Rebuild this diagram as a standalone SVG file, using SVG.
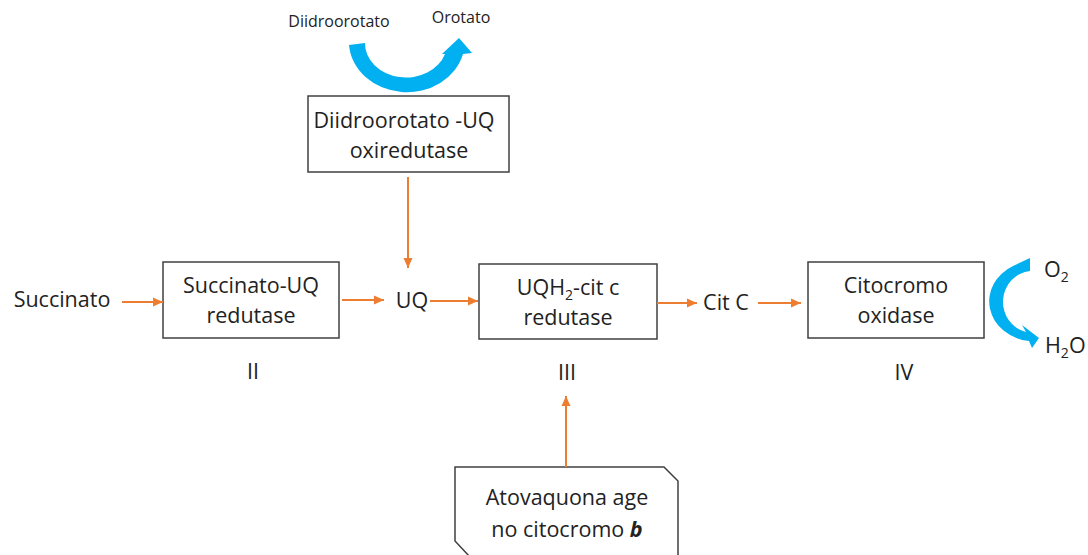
<svg xmlns="http://www.w3.org/2000/svg" width="1088" height="555" viewBox="0 0 1088 555">
  <defs>
    <marker id="arrow" markerWidth="11" markerHeight="10" refX="10" refY="5" orient="auto" markerUnits="userSpaceOnUse">
      <path d="M0,0.5 L10,5 L0,9.5 Z" fill="#ED7D31"/>
    </marker>
    <style>
      .box { fill: #ffffff; stroke: #404040; stroke-width: 1.5; }
      .lbl { font-family: "Open Sans", "Liberation Sans", sans-serif; font-size: 21.5px; fill: #222222; text-anchor: middle; }
      .sm { font-family: "Open Sans", "Liberation Sans", sans-serif; font-size: 16px; fill: #222222; text-anchor: middle; }
      .sub { font-size: 14px; }
      .conn { stroke: #ED7D31; stroke-width: 2; fill: none; marker-end: url(#arrow); }
      .flow { fill: #00B0F0; }
    </style>
  </defs>
  <rect width="1088" height="555" fill="#ffffff"/>

  <!-- curved flow arrows -->
  <g id="dho-flow">
    <path class="flow" d="M349 45 A58 51 0 0 0 463 54 L472 53 L459 38 L442 54 L445 54 A41 34 0 0 1 365 43 Z"/>
    <text class="sm" x="339" y="27">Diidroorotato</text>
    <text class="sm" x="461" y="23">Orotato</text>
  </g>
  <g id="o2-flow">
    <path class="flow" d="M1013 266 A45 40 0 0 0 1029 341 L1032 348 L1039 338 L1022 325 L1026 332 A30 31 0 0 1 1030 271 L1030 258 Z"/>
    <text class="lbl" x="1044" y="277" style="text-anchor:start">O<tspan class="sub" dy="5">2</tspan></text>
    <text class="lbl" x="1045" y="353" style="text-anchor:start">H<tspan class="sub" dy="5">2</tspan><tspan dy="-5">O</tspan></text>
  </g>

  <!-- enzymes -->
  <g id="dho-uq">
    <rect class="box" x="308" y="96" width="201" height="76"/>
    <text class="lbl" x="404" y="128">Diidroorotato -UQ</text>
    <text class="lbl" x="409" y="158">oxiredutase</text>
  </g>
  <g id="complex-ii">
    <rect class="box" x="163" y="262" width="176" height="76"/>
    <text class="lbl" x="251" y="293">Succinato-UQ</text>
    <text class="lbl" x="251" y="323">redutase</text>
    <text class="lbl" x="253" y="379">II</text>
  </g>
  <g id="complex-iii">
    <rect class="box" x="479" y="264" width="178" height="75"/>
    <text class="lbl" x="568" y="295">UQH<tspan class="sub" dy="5">2</tspan><tspan dy="-5">-cit c</tspan></text>
    <text class="lbl" x="568" y="325">redutase</text>
    <text class="lbl" x="567" y="380">III</text>
  </g>
  <g id="complex-iv">
    <rect class="box" x="808" y="262" width="176" height="76"/>
    <text class="lbl" x="896" y="293">Citocromo</text>
    <text class="lbl" x="896" y="323">oxidase</text>
    <text class="lbl" x="904" y="380">IV</text>
  </g>

  <!-- substrates and carriers -->
  <g id="succinato"><text class="lbl" x="62" y="307">Succinato</text></g>
  <g id="uq"><text class="lbl" x="412" y="308">UQ</text></g>
  <g id="cit-c"><text class="lbl" x="726" y="310">Cit C</text></g>

  <!-- inhibitor note -->
  <g id="atovaquona">
    <path class="box" d="M470 557 L455 541 L455 467 L664 467 L678 481 L678 557"/>
    <text class="lbl" x="567" y="505">Atovaquona age</text>
    <text class="lbl" x="567" y="537">no citocromo <tspan font-weight="bold" font-style="italic">b</tspan></text>
  </g>

  <!-- connectors -->
  <g id="connectors">
    <line class="conn" x1="122" y1="302" x2="163" y2="302"/>
    <line class="conn" x1="342" y1="300" x2="384" y2="300"/>
    <line class="conn" x1="430" y1="301" x2="478" y2="301"/>
    <line class="conn" x1="657" y1="303" x2="697" y2="303"/>
    <line class="conn" x1="758" y1="303" x2="801" y2="303"/>
    <line class="conn" x1="408" y1="177" x2="408" y2="268"/>
    <line class="conn" x1="566" y1="467" x2="566" y2="396"/>
  </g>
</svg>
